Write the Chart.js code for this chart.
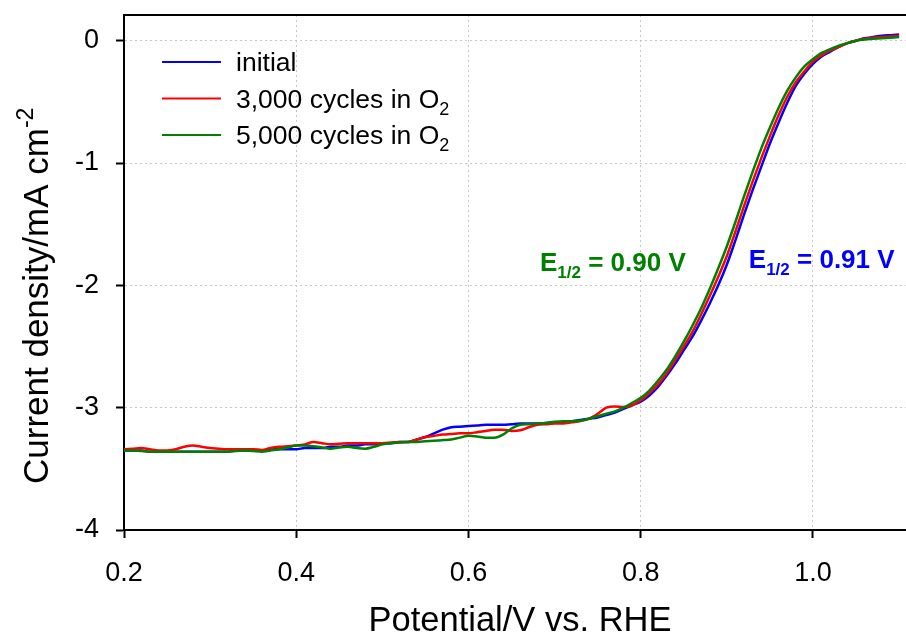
<!DOCTYPE html>
<html>
<head>
<meta charset="utf-8">
<script src="https://cdn.jsdelivr.net/npm/chart.js@4.4.1/dist/chart.umd.min.js"></script>
<style>
  html, body { margin: 0; padding: 0; background: #fff; }
  #wrap { width: 906px; height: 635px; position: relative; }
</style>
</head>
<body>
<div id="wrap"><canvas id="lsv"></canvas></div>
<script>
// potential (V vs. RHE), 10 mV steps
const potential = [
  0.20, 0.21, 0.22, 0.23, 0.24, 0.25, 0.26, 0.27, 0.28, 0.29,
  0.30, 0.31, 0.32, 0.33, 0.34, 0.35, 0.36, 0.37, 0.38, 0.39,
  0.40, 0.41, 0.42, 0.43, 0.44, 0.45, 0.46, 0.47, 0.48, 0.49,
  0.50, 0.51, 0.52, 0.53, 0.54, 0.55, 0.56, 0.57, 0.58, 0.59,
  0.60, 0.61, 0.62, 0.63, 0.64, 0.65, 0.66, 0.67, 0.68, 0.69,
  0.70, 0.71, 0.72, 0.73, 0.74, 0.75, 0.76, 0.77, 0.78, 0.79,
  0.80, 0.81, 0.82, 0.83, 0.84, 0.85, 0.86, 0.87, 0.88, 0.89,
  0.90, 0.91, 0.92, 0.93, 0.94, 0.95, 0.96, 0.97, 0.98, 0.99,
  1.00, 1.01, 1.02, 1.03, 1.04, 1.05, 1.06, 1.07, 1.08, 1.09,
  1.10
];

// current density (mA cm-2)
const initial = [
  -3.35, -3.35, -3.35, -3.36, -3.36, -3.36, -3.36, -3.36, -3.36, -3.36,
  -3.36, -3.36, -3.36, -3.35, -3.35, -3.35, -3.35, -3.34, -3.34, -3.34,
  -3.34, -3.33, -3.33, -3.33, -3.32, -3.32, -3.31, -3.31, -3.30, -3.30,
  -3.29, -3.29, -3.28, -3.28, -3.26, -3.24, -3.21, -3.18, -3.16, -3.155,
  -3.15, -3.145, -3.14, -3.14, -3.14, -3.135, -3.13, -3.13, -3.13, -3.125,
  -3.12, -3.12, -3.11, -3.10, -3.09, -3.08, -3.06, -3.04, -3.01, -2.98,
  -2.95, -2.90, -2.83, -2.74, -2.64, -2.53, -2.42, -2.29, -2.15, -2.00,
  -1.83, -1.63, -1.42, -1.22, -1.03, -0.84, -0.67, -0.51, -0.37, -0.27,
  -0.19, -0.13, -0.09, -0.05, -0.02, 0.00, 0.02, 0.03, 0.04, 0.045,
  0.05
];

const cycles3000 = [
  -3.34, -3.335, -3.33, -3.34, -3.35, -3.35, -3.34, -3.32, -3.31, -3.32,
  -3.33, -3.335, -3.34, -3.34, -3.34, -3.34, -3.345, -3.33, -3.32, -3.315,
  -3.31, -3.30, -3.28, -3.29, -3.30, -3.295, -3.29, -3.29, -3.29, -3.29,
  -3.29, -3.285, -3.28, -3.28, -3.26, -3.24, -3.23, -3.22, -3.215, -3.21,
  -3.21, -3.20, -3.19, -3.18, -3.18, -3.19, -3.185, -3.16, -3.14, -3.135,
  -3.13, -3.13, -3.12, -3.11, -3.09, -3.05, -3.00, -2.99, -2.995, -2.98,
  -2.94, -2.88, -2.81, -2.72, -2.61, -2.50, -2.38, -2.24, -2.09, -1.93,
  -1.76, -1.56, -1.35, -1.15, -0.96, -0.78, -0.61, -0.46, -0.34, -0.25,
  -0.17, -0.12, -0.08, -0.05, -0.02, 0.00, 0.015, 0.025, 0.03, 0.035,
  0.04
];

const cycles5000 = [
  -3.35, -3.35, -3.355, -3.36, -3.36, -3.36, -3.36, -3.36, -3.36, -3.36,
  -3.36, -3.36, -3.36, -3.355, -3.35, -3.355, -3.36, -3.35, -3.34, -3.325,
  -3.31, -3.31, -3.315, -3.325, -3.335, -3.325, -3.32, -3.33, -3.335, -3.32,
  -3.30, -3.29, -3.285, -3.28, -3.28, -3.275, -3.27, -3.265, -3.26, -3.245,
  -3.23, -3.235, -3.245, -3.245, -3.22, -3.17, -3.14, -3.135, -3.13, -3.125,
  -3.115, -3.11, -3.11, -3.105, -3.09, -3.07, -3.05, -3.03, -3.00, -2.96,
  -2.92, -2.86, -2.78, -2.69, -2.58, -2.46, -2.33, -2.19, -2.03, -1.86,
  -1.68, -1.48, -1.27, -1.07, -0.88, -0.71, -0.55, -0.41, -0.30, -0.21,
  -0.15, -0.10, -0.07, -0.04, -0.02, 0.00, 0.01, 0.015, 0.02, 0.025,
  0.03
];

const seriesLabels = ['initial', '3,000 cycles in O', '5,000 cycles in O'];
const seriesSubs = ['', '2', '2'];
const seriesColors = ['#0000ff', '#ff0000', '#008000'];

const xTicks = [0.2, 0.4, 0.6, 0.8, 1.0];
const yTicks = [-4, -3, -2, -1, 0];

// half-wave potentials written on the plot
const halfWave = [
  { value: '0.90', color: '#008000', x: 0.683, y: -1.88 },
  { value: '0.91', color: '#0000ff', x: 0.9255, y: -1.86 }
];

const FONT = '"Liberation Sans", Arial, sans-serif';

function toPoints(ys) {
  return potential.map((p, i) => ({ x: p, y: ys[i] }));
}

// text with an optional sub/superscript tail
function drawRich(ctx, x, y, parts) {
  let cx = x;
  parts.forEach(p => {
    ctx.font = p.font;
    ctx.fillText(p.text, cx, y + (p.dy || 0));
    cx += ctx.measureText(p.text).width;
  });
}

const decorations = {
  id: 'decorations',
  afterDraw(chart) {
    const { ctx, chartArea, scales } = chart;
    ctx.save();

    // top frame line
    ctx.strokeStyle = '#000';
    ctx.lineWidth = 2;
    ctx.beginPath();
    ctx.moveTo(chartArea.left, chartArea.top);
    ctx.lineTo(chartArea.right, chartArea.top);
    ctx.stroke();

    // legend
    ctx.textBaseline = 'alphabetic';
    ctx.textAlign = 'left';
    seriesLabels.forEach((lab, i) => {
      const ly = 62 + i * 36.5;
      ctx.strokeStyle = seriesColors[i];
      ctx.lineWidth = 2;
      ctx.beginPath();
      ctx.moveTo(162, ly);
      ctx.lineTo(221, ly);
      ctx.stroke();
      ctx.fillStyle = '#000';
      const parts = [{ text: lab, font: '26.5px ' + FONT }];
      if (seriesSubs[i]) parts.push({ text: seriesSubs[i], font: '18px ' + FONT, dy: 7 });
      drawRich(ctx, 236, ly + 9, parts);
    });

    // E1/2 labels
    halfWave.forEach(h => {
      ctx.fillStyle = h.color;
      const px = scales.x.getPixelForValue(h.x);
      const py = scales.y.getPixelForValue(h.y);
      drawRich(ctx, px, py, [
        { text: 'E', font: 'bold 26px ' + FONT },
        { text: '1/2', font: 'bold 17px ' + FONT, dy: 7 },
        { text: ' = ' + h.value + ' V', font: 'bold 26px ' + FONT }
      ]);
    });

    // axis titles
    ctx.fillStyle = '#000';
    ctx.font = '34.5px ' + FONT;
    ctx.textAlign = 'center';
    ctx.fillText('Potential/V vs. RHE', 520, 631);

    ctx.translate(48, 484);
    ctx.rotate(-Math.PI / 2);
    ctx.textAlign = 'left';
    drawRich(ctx, 0, 0, [
      { text: 'Current density/mA cm', font: '35px ' + FONT },
      { text: '-2', font: '23px ' + FONT, dy: -15 }
    ]);
    ctx.restore();
  }
};

const mkDataset = (ys, i, order) => ({
  label: seriesLabels[i] + seriesSubs[i],
  data: toPoints(ys),
  borderColor: seriesColors[i],
  borderWidth: 2.5,
  pointRadius: 0,
  fill: false,
  cubicInterpolationMode: 'monotone',
  order: order
});

const tickGrid = {
  color: '#c8c8c8',
  lineWidth: 1,
  tickLength: 8,
  tickColor: '#000',
  tickWidth: 2,
  tickBorderDash: []
};

new Chart(document.getElementById('lsv'), {
  type: 'line',
  data: {
    datasets: [
      mkDataset(initial, 0, 3),
      mkDataset(cycles3000, 1, 2),
      mkDataset(cycles5000, 2, 1)
    ]
  },
  options: {
    responsive: true,
    maintainAspectRatio: false,
    animation: false,
    layout: { padding: { top: 15, right: 0, bottom: 0, left: 0 } },
    plugins: {
      legend: { display: false },
      tooltip: { enabled: false }
    },
    scales: {
      x: {
        type: 'linear',
        min: 0.2,
        max: 1.108,
        afterFit(scale) {
          scale.height = 105;
          scale.paddingLeft = 0;
          scale.paddingRight = 0;
        },
        afterBuildTicks(scale) { scale.ticks = xTicks.map(v => ({ value: v })); },
        ticks: {
          color: '#000',
          padding: 19,
          maxRotation: 0,
          font: { family: FONT, size: 27 },
          callback: v => Number(v).toFixed(1)
        },
        grid: tickGrid,
        border: { color: '#000', width: 2, dash: [2, 3] }
      },
      y: {
        type: 'linear',
        min: -4,
        max: 0.21,
        afterFit(scale) {
          scale.width = 124;
          scale.paddingTop = 0;
          scale.paddingBottom = 0;
        },
        afterBuildTicks(scale) { scale.ticks = yTicks.map(v => ({ value: v })); },
        ticks: {
          color: '#000',
          padding: 17,
          font: { family: FONT, size: 27 },
          callback: v => String(v)
        },
        grid: tickGrid,
        border: { color: '#000', width: 2, dash: [2, 3] }
      }
    }
  },
  plugins: [decorations]
});
</script>
</body>
</html>
